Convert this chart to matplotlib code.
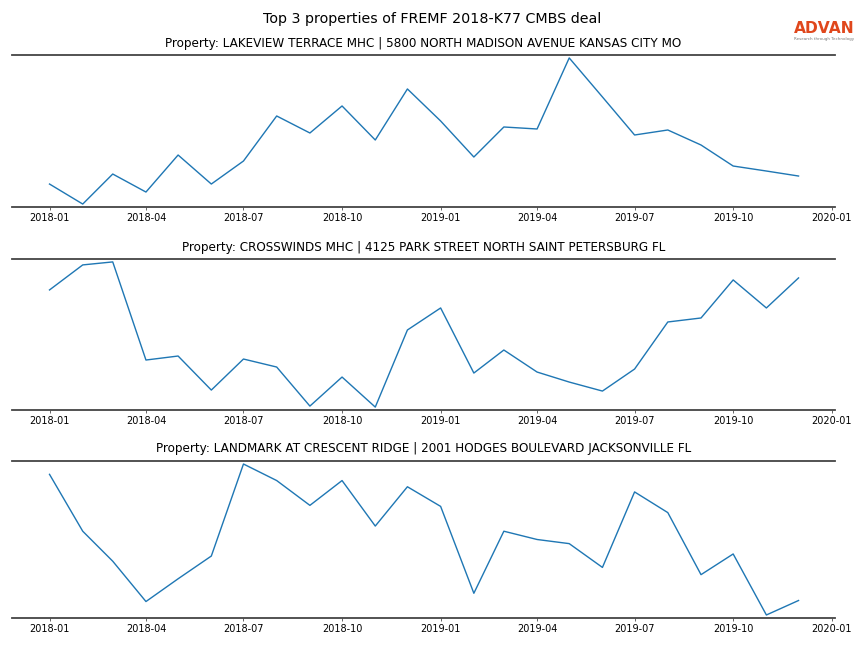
import matplotlib.pyplot as plt
import matplotlib.dates as mdates
import pandas as pd

# meses de 2018-01 a 2019-12
meses = pd.date_range("2018-01-01", "2019-12-01", freq="MS")

titulos = [
    "Property: LAKEVIEW TERRACE MHC | 5800 NORTH MADISON AVENUE KANSAS CITY MO",
    "Property: CROSSWINDS MHC | 4125 PARK STREET NORTH SAINT PETERSBURG FL",
    "Property: LANDMARK AT CRESCENT RIDGE | 2001 HODGES BOULEVARD JACKSONVILLE FL",
]

# valores relativos (sem escala no eixo y)
lakeview = [23, 3, 33, 15, 52, 23, 46, 91, 74, 101, 67, 118,
            86, 50, 80, 78, 149, 110, 72, 77, 62, 41, 36, 31]
crosswinds = [119, 144, 147, 49, 53, 19, 50, 42, 3, 32, 2, 79,
              101, 36, 59, 37, 27, 18, 40, 87, 91, 129, 101, 131]
landmark = [141, 86, 57, 18, 40, 62, 151, 135, 111, 135, 91, 129,
            110, 26, 86, 78, 74, 51, 124, 104, 44, 64, 5, 19]

series = [lakeview, crosswinds, landmark]

fig = plt.figure(figsize=(12, 9), dpi=72)

# posições dos painéis [left, bottom, width, height]
caixas = [
    [0.0139, 0.6806, 0.9525, 0.2345],
    [0.0139, 0.3673, 0.9525, 0.2330],
    [0.0139, 0.0463, 0.9525, 0.2423],
]

for caixa, titulo, valores in zip(caixas, titulos, series):
    ax = fig.add_axes(caixa)
    ax.plot(meses, valores, color='#1f77b4', linewidth=1.4)
    ax.set_title(titulo, fontsize=12, pad=8.5)
    ax.margins(y=0.02)
    ax.set_yticks([])
    for lado in ['left', 'right']:
        ax.spines[lado].set_visible(False)
    for lado in ['top', 'bottom']:
        ax.spines[lado].set_color('#444444')
        ax.spines[lado].set_linewidth(1.8)
    ax.set_xlim(pd.Timestamp("2017-11-27"), pd.Timestamp("2020-01-04"))
    ax.set_xticks(pd.date_range("2018-01-01", "2020-01-01", freq="3MS"))
    ax.xaxis.set_major_formatter(mdates.DateFormatter("%Y-%m"))
    ax.tick_params(axis='x', labelsize=9.7, length=3, color='#444444')

fig.suptitle("Top 3 properties of FREMF 2018-K77 CMBS deal", fontsize=14.3, y=0.982)

# logo
fig.text(0.954, 0.9565, "ADVAN", color='#e0471c', fontsize=15.5, fontweight='bold',
         ha='center', va='center')
fig.text(0.954, 0.940, "Research through Technology", color='#777777', fontsize=4,
         ha='center', va='center')

plt.savefig("out.png", dpi=72)
